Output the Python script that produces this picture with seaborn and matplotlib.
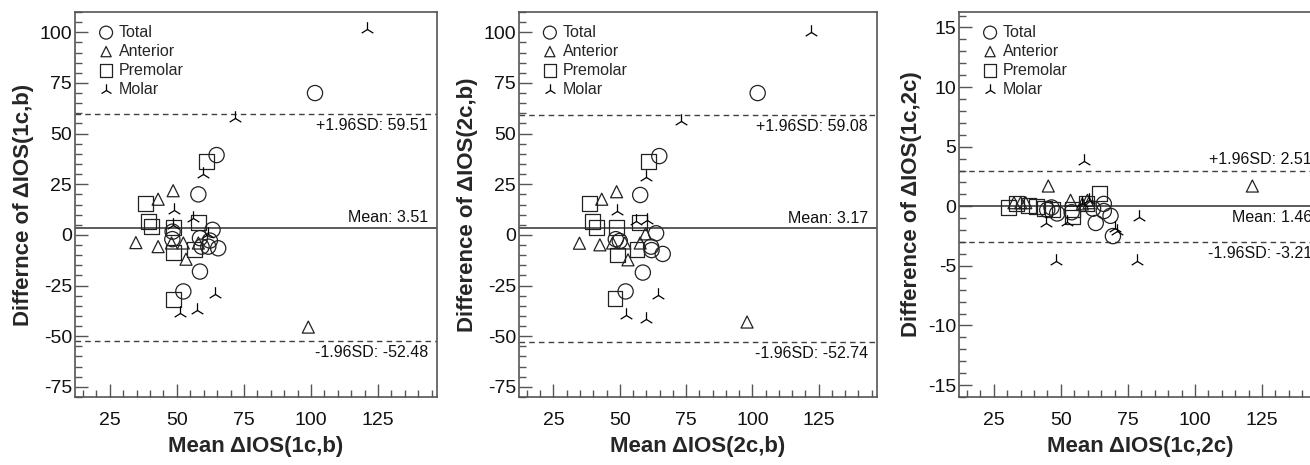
import matplotlib
matplotlib.use("Agg")
import matplotlib.pyplot as plt
from matplotlib.ticker import MultipleLocator
import seaborn as sns
import pandas as pd

sns.set_theme(style="white")
plt.rcParams['font.family'] = ['Liberation Sans', 'DejaVu Sans']
plt.rcParams['axes.unicode_minus'] = False

groups = ["Total", "Anterior", "Premolar", "Molar"]

# ---- Panel 1: 1c vs b ----
p1_total_x = [64.8, 58.0, 63.3, 48.4, 48.3, 58.6, 62.3, 59.2, 61.7, 65.4, 58.6, 52.4, 101.5]
p1_total_y = [39.4, 20.0, 2.5, 1.6, -2.1, -1.6, -2.8, -5.8, -5.8, -6.6, -18.1, -27.9, 70.0]
p1_ant_x = [48.6, 43.0, 34.7, 43.0, 48.0, 52.4, 53.4, 58.0, 99.0]
p1_ant_y = [21.8, 17.6, -3.8, -5.8, -4.0, -4.0, -12.0, -4.0, -45.5]
p1_pre_x = [61.1, 38.3, 39.3, 40.6, 48.6, 58.2, 48.9, 56.7, 48.6]
p1_pre_y = [36.1, 15.6, 6.6, 4.1, 3.8, 6.1, -8.7, -7.0, -31.7]
p1_mol_x = [59.6, 48.9, 55.9, 48.4, 61.5, 64.2, 51.1, 57.6, 71.6, 120.8]
p1_mol_y = [30.0, 12.3, 8.2, 5.0, 0.5, -29.0, -38.3, -37.0, 57.5, 101.8]
p1_stats = [3.51, 59.51, -52.48]

# ---- Panel 2: 2c vs b ----
p2_total_x = [64.9, 57.7, 63.7, 48.5, 50.0, 61.8, 62.0, 66.2, 58.7, 52.2, 102.0]
p2_total_y = [38.9, 19.7, 0.8, -2.1, -3.0, -5.8, -7.5, -9.4, -18.6, -27.9, 70.0]
p2_ant_x = [48.8, 43.2, 34.8, 42.5, 47.3, 51.9, 53.1, 57.7, 59.7, 98.0]
p2_ant_y = [21.3, 17.6, -4.1, -4.9, -4.0, -4.0, -12.3, -4.0, 0.5, -43.0]
p2_pre_x = [60.9, 38.6, 39.6, 41.1, 48.8, 57.5, 49.0, 56.5, 48.2]
p2_pre_y = [36.1, 15.3, 6.6, 3.8, 3.8, 6.1, -9.9, -7.4, -31.2]
p2_mol_x = [60.0, 49.0, 56.2, 60.2, 64.3, 52.5, 60.0, 73.0, 122.0]
p2_mol_y = [28.7, 12.0, 7.0, 7.5, -29.6, -39.4, -41.5, 56.0, 100.0]
p2_stats = [3.17, 59.08, -52.74]

# ---- Panel 3: 1c vs 2c ----
p3_total_x = [44.9, 48.6, 46.5, 54.0, 63.0, 66.0, 66.0, 68.5, 69.4, 62.0]
p3_total_y = [-0.3, -0.6, -0.1, -0.5, -1.4, 0.2, -0.4, -0.8, -2.5, -0.2]
p3_ant_x = [45.3, 121.4, 32.5, 35.0, 36.9, 53.6, 59.9, 60.5, 58.0]
p3_ant_y = [1.7, 1.7, 0.3, 0.3, 0.3, 0.5, 0.5, 0.3, 0.2]
p3_pre_x = [30.4, 33.5, 38.0, 41.0, 47.0, 54.2, 54.2, 59.5, 64.3, 44.0]
p3_pre_y = [-0.1, 0.2, 0.1, 0.0, -0.3, -0.3, -0.9, 0.2, 1.1, -0.2]
p3_mol_x = [58.7, 44.5, 52.4, 71.0, 70.0, 79.1, 48.0, 78.5, 58.0, 60.5]
p3_mol_y = [3.8, -1.4, -1.3, -2.1, -1.8, -0.9, -4.6, -4.6, 0.3, 0.5]
p3_lines = [0.05, 2.95, -3.0]
p3_labels = ["Mean: 1.46", "+1.96SD: 2.51", "-1.96SD: -3.21"]

xlabels = ["Mean \u0394IOS(1c,b)", "Mean \u0394IOS(2c,b)", "Mean \u0394IOS(1c,2c)"]
ylabels = ["Differnce of \u0394IOS(1c,b)", "Difference of \u0394IOS(2c,b)",
           "Difference of \u0394IOS(1c,2c)"]

panels = [
    (p1_total_x, p1_total_y, p1_ant_x, p1_ant_y, p1_pre_x, p1_pre_y, p1_mol_x, p1_mol_y),
    (p2_total_x, p2_total_y, p2_ant_x, p2_ant_y, p2_pre_x, p2_pre_y, p2_mol_x, p2_mol_y),
    (p3_total_x, p3_total_y, p3_ant_x, p3_ant_y, p3_pre_x, p3_pre_y, p3_mol_x, p3_mol_y),
]
line_vals = [p1_stats, p2_stats, p3_lines]
line_texts = [
    ["Mean: %.2f" % p1_stats[0], "+1.96SD: %.2f" % p1_stats[1], "-1.96SD: %.2f" % p1_stats[2]],
    ["Mean: %.2f" % p2_stats[0], "+1.96SD: %.2f" % p2_stats[1], "-1.96SD: %.2f" % p2_stats[2]],
    p3_labels,
]
# text offsets (points) relative to (mean, upper, lower) lines
text_offsets = [
    [(2, "bottom"), (-3, "top"), (-3, "top")],
    [(2, "bottom"), (-3, "top"), (-3, "top")],
    [(-3, "top"), (3, "bottom"), (-3, "top")],
]

W, H = 1310, 465
fig = plt.figure(figsize=(W / 100, H / 100), dpi=100)
ax_px = [(75, 362), (519, 358), (959, 362)]
top_px, bot_px = 12, 397

markers = {"Total": "o", "Anterior": "^", "Premolar": "s", "Molar": "2"}
sizes = {"Total": 120, "Anterior": 75, "Premolar": 115, "Molar": 110}
spine_col = "#555555"
line_col = "#404040"

for i, pan in enumerate(panels):
    l, w = ax_px[i]
    ax = fig.add_axes([l / W, (H - bot_px) / H, w / W, (bot_px - top_px) / H])
    for g, (xs, ys) in zip(groups, [(pan[0], pan[1]), (pan[2], pan[3]), (pan[4], pan[5]), (pan[6], pan[7])]):
        df = pd.DataFrame({"x": xs, "y": ys})
        if markers[g] == "2":
            sns.scatterplot(data=df, x="x", y="y", marker="2", s=sizes[g], color="black",
                            linewidths=0.9, label=g, ax=ax, zorder=3)
        else:
            sns.scatterplot(data=df, x="x", y="y", marker=markers[g], s=sizes[g],
                            facecolors="none", edgecolor="#222222", linewidth=0.9,
                            label=g, ax=ax, zorder=3)
    mean, up, lo = line_vals[i]
    ax.axhline(mean, color=line_col, lw=1.2, zorder=2)
    ax.axhline(up, color=line_col, lw=1.0, ls=(0, (4, 3)), zorder=2)
    ax.axhline(lo, color=line_col, lw=1.0, ls=(0, (4, 3)), zorder=2)
    tx = 0.975
    for txt, val, (dy, va) in zip(line_texts[i], [mean, up, lo], text_offsets[i]):
        ax.annotate(txt, xy=(tx, val), xycoords=("axes fraction", "data"), xytext=(0, dy),
                    textcoords="offset points", ha="right", va=va, fontsize=11.5,
                    color="#111111")

    ax.set_xlim(12, 147)
    ax.xaxis.set_major_locator(MultipleLocator(25))
    ax.xaxis.set_minor_locator(MultipleLocator(5))
    if i < 2:
        ax.set_ylim(-80, 110)
        ax.yaxis.set_major_locator(MultipleLocator(25))
        ax.yaxis.set_minor_locator(MultipleLocator(5))
    else:
        ax.set_ylim(-16, 16.3)
        ax.yaxis.set_major_locator(MultipleLocator(5))
        ax.yaxis.set_minor_locator(MultipleLocator(1))
    ax.tick_params(which="both", direction="in", top=False, right=False, bottom=True, left=True,
                   colors=spine_col, labelcolor="#111111", labelsize=14, width=1.0)
    ax.tick_params(which="major", length=9.5)
    ax.tick_params(which="minor", length=5)
    ax.tick_params(axis="x", which="major", pad=11)
    ax.tick_params(axis="y", which="major", pad=2)
    for s in ax.spines.values():
        s.set_color(spine_col)
        s.set_linewidth(1.2)
    ax.set_xlabel(xlabels[i], fontsize=16, fontweight="bold", labelpad=5)
    ax.set_ylabel(ylabels[i], fontsize=16, fontweight="bold", labelpad=4)

    leg = ax.legend(loc="upper left", bbox_to_anchor=(0.055, 0.975), frameon=False,
                    fontsize=11.5, handletextpad=0.3, labelspacing=0.25, handlelength=1.0,
                    borderaxespad=0.0, borderpad=0.2, markerscale=0.85)

fig.savefig("out.png", dpi=100)
